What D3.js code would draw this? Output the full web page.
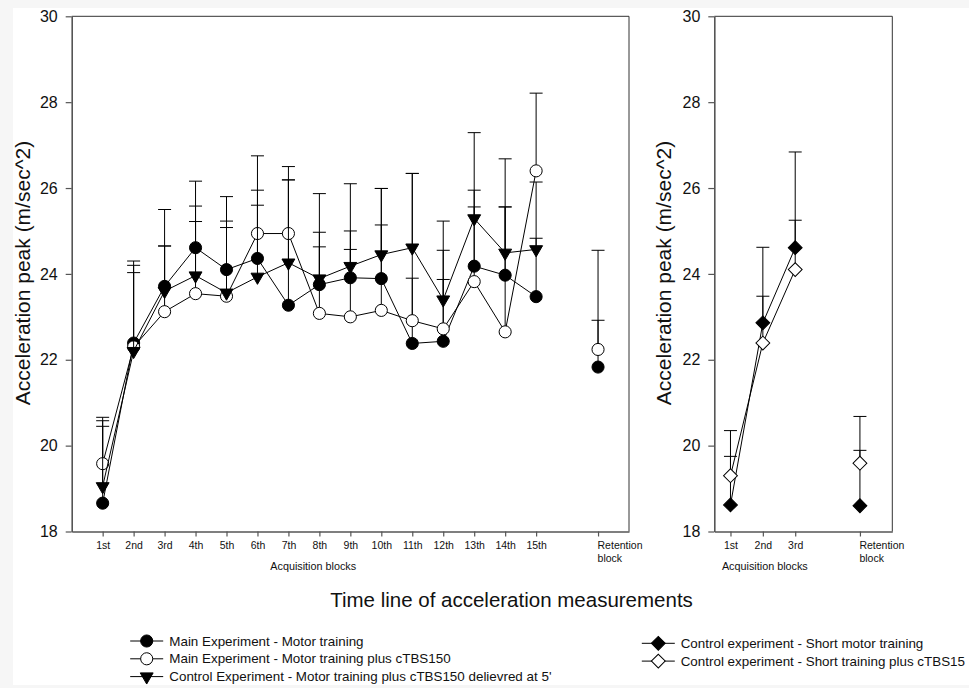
<!DOCTYPE html>
<html>
<head>
<meta charset="utf-8">
<script src="https://cdn.jsdelivr.net/npm/d3@7"></script>
<style>
  body { margin: 0; background: #f6f6f6; }
  svg { display: block; font-family: "Liberation Sans", Arial, sans-serif; }
</style>
</head>
<body>
<div id="chart"></div>
<script>
// acquisition blocks of the main experiment (last entry = retention block)
var blockLabels = ["1st", "2nd", "3rd", "4th", "5th", "6th", "7th", "8th", "9th", "10th",
                   "11th", "12th", "13th", "14th", "15th", "Retention block"];
var mainMotor      = [18.66, 22.39, 23.71, 24.61, 24.10, 24.36, 23.27, 23.75, 23.91, 23.89, 22.38, 22.43, 24.18, 23.97, 23.47, 21.83];
var mainMotorSem   = [1.79, 1.91, 1.79, 1.55, 1.70, 1.59, 2.92, 2.12, 2.19, 2.10, 1.52, 2.12, 1.77, 1.59, 1.36, 1.09];
var mainCtbs       = [19.58, 22.30, 23.12, 23.54, 23.48, 24.94, 24.94, 23.08, 23.00, 23.15, 22.91, 22.72, 23.82, 22.65, 26.40, 22.24];
var mainCtbsSem    = [1.08, 1.73, 1.53, 1.68, 1.60, 1.81, 1.56, 1.55, 1.57, 1.99, 3.43, 1.15, 1.74, 4.03, 1.81, 2.31];
var controlLate    = [19.05, 22.20, 23.60, 23.96, 23.56, 23.93, 24.26, 23.89, 24.18, 24.45, 24.61, 23.40, 25.29, 24.49, 24.57, null];
var controlLateSem = [1.53, 2.00, 1.05, 1.62, 1.67, 1.67, 1.93, 1.08, 0.82, 1.54, 1.73, 1.83, 2.00, 1.07, 1.57, null];

// short control experiment (last entry = retention block)
var shortLabels   = ["1st", "2nd", "3rd", "Retention block"];
var shortMotor    = [18.62, 22.86, 24.61, 18.60];
var shortMotorSem = [1.13, 1.76, 2.23, 1.29];
var shortCtbs     = [19.30, 22.39, 24.10, 19.59];
var shortCtbsSem  = [1.05, 1.09, 1.15, 1.09];

var yTicks = [18, 20, 22, 24, 26, 28, 30];

var legendLeft = [
  {label: "Main Experiment - Motor training", sym: "circle", fill: "#000"},
  {label: "Main Experiment - Motor training plus cTBS150", sym: "circle", fill: "#fff"},
  {label: "Control Experiment - Motor training plus cTBS150 delievred at 5'", sym: "triangle", fill: "#000"}
];
var legendRight = [
  {label: "Control experiment - Short motor training", sym: "diamond", fill: "#000"},
  {label: "Control experiment - Short training plus cTBS15", sym: "diamond", fill: "#fff"}
];

var W = 969, H = 688;
var svg = d3.select("#chart").append("svg")
    .attr("width", W)
    .attr("height", H);

// figure sheet
svg.append("rect")
  .attr("x", 13).attr("y", 8)
  .attr("width", W - 13).attr("height", 677)
  .attr("fill", "#fff");

var y = d3.scaleLinear().domain([18, 30]).range([531.5, 16.3]);

function symbolPath(sym) {
  if (sym == "circle") return d3.symbol().type(d3.symbolCircle).size(115)();
  if (sym == "triangle") return d3.symbol().type(d3.symbolTriangle).size(72)();
  return d3.symbol().type(d3.symbolSquare).size(96)();
}
function symbolRotate(sym) {
  if (sym == "triangle") return 180;
  if (sym == "diamond") return 45;
  return 0;
}

// one series: error bars (upper only), connecting line, markers
function drawSeries(g, x, pos, values, sems, nLine, sym, fill) {
  var pts = values.map(function (v, i) {
    return {x: pos[i], v: v, s: sems[i]};
  }).filter(function (d) { return d.v != null; });

  var eb = g.append("g").selectAll("g")
    .data(pts)
    .enter().append("g");
  eb.append("line")
    .attr("x1", function (d) { return x(d.x); })
    .attr("x2", function (d) { return x(d.x); })
    .attr("y1", function (d) { return y(d.v); })
    .attr("y2", function (d) { return y(d.v + d.s); })
    .attr("stroke", "#000").attr("stroke-width", 1);
  eb.append("line")
    .attr("x1", function (d) { return x(d.x) - 6.5; })
    .attr("x2", function (d) { return x(d.x) + 6.5; })
    .attr("y1", function (d) { return y(d.v + d.s); })
    .attr("y2", function (d) { return y(d.v + d.s); })
    .attr("stroke", "#000").attr("stroke-width", 1);

  var line = d3.line()
    .x(function (d) { return x(d.x); })
    .y(function (d) { return y(d.v); });
  g.append("path")
    .datum(pts.slice(0, nLine))
    .attr("d", line)
    .attr("fill", "none")
    .attr("stroke", "#000")
    .attr("stroke-width", 1);

  g.append("g").selectAll("path")
    .data(pts)
    .enter().append("path")
    .attr("d", symbolPath(sym))
    .attr("transform", function (d) {
      return "translate(" + x(d.x) + "," + y(d.v) + ") rotate(" + symbolRotate(sym) + ")";
    })
    .attr("fill", fill)
    .attr("stroke", "#000")
    .attr("stroke-width", 1);
}

function buildPanel(x, pos, labels, titleX, labelX) {
  var g = svg.append("g");
  var x0 = x.range()[0], x1 = x.range()[1];

  // frame top and right
  g.append("line").attr("x1", x0).attr("x2", x1).attr("y1", y(30)).attr("y2", y(30))
    .attr("stroke", "#333").attr("stroke-width", 1);
  g.append("line").attr("x1", x1).attr("x2", x1).attr("y1", y(30)).attr("y2", y(18))
    .attr("stroke", "#333").attr("stroke-width", 1);

  // y axis
  var ya = g.append("g")
    .attr("transform", "translate(" + x0 + ",0)")
    .call(d3.axisLeft(y).tickValues(yTicks).tickSize(6).tickPadding(8).tickSizeOuter(0));
  ya.select(".domain").attr("stroke", "#555").attr("stroke-width", 1.6);
  ya.selectAll(".tick line").attr("stroke", "#555").attr("stroke-width", 1.2);
  ya.selectAll(".tick text").attr("font-size", 16).attr("fill", "#111")
    .attr("font-family", "Liberation Sans, Arial, sans-serif");

  // x axis
  var xa = g.append("g")
    .attr("transform", "translate(0," + y(18) + ")")
    .call(d3.axisBottom(x).tickValues(pos).tickSize(5).tickPadding(5).tickSizeOuter(0)
      .tickFormat(function (d, i) { return labels[i]; }));
  xa.select(".domain").attr("stroke", "#555").attr("stroke-width", 1.6);
  xa.selectAll(".tick line").attr("stroke", "#555").attr("stroke-width", 1.2);
  xa.selectAll(".tick text").attr("font-size", 10.5).attr("fill", "#111")
    .attr("font-family", "Liberation Sans, Arial, sans-serif");

  // retention label on two lines, starting at its tick
  var last = xa.selectAll(".tick").filter(function (d, i) { return i == labels.length - 1; });
  var words = labels[labels.length - 1].split(" ");
  var t = last.select("text").text(null).attr("text-anchor", "start").attr("x", -1);
  t.append("tspan").attr("x", -1).text(words[0]);
  t.append("tspan").attr("x", -1).attr("dy", "1.25em").text(words[1]);

  g.append("text")
    .attr("x", titleX)
    .attr("y", 570)
    .attr("text-anchor", "middle")
    .attr("font-size", 10.8)
    .attr("fill", "#111")
    .text("Acquisition blocks");

  g.append("text")
    .attr("transform", "translate(" + labelX + ",273) rotate(-90)")
    .attr("text-anchor", "middle")
    .attr("dominant-baseline", "central")
    .attr("font-size", 21)
    .attr("fill", "#111")
    .text("Acceleration peak (m/sec^2)");

  return g;
}

// left panel: 15 acquisition blocks + retention
var posLeft = blockLabels.map(function (d, i) { return i < blockLabels.length - 1 ? i + 1 : i + 2; });
var xLeft = d3.scaleLinear().domain([0, 18]).range([71.7, 629]);
var gl = buildPanel(xLeft, posLeft, blockLabels, xLeft(7.8), 22);
var nAcq = blockLabels.length - 1;
drawSeries(gl, xLeft, posLeft, mainMotor, mainMotorSem, nAcq, "circle", "#000");
drawSeries(gl, xLeft, posLeft, mainCtbs, mainCtbsSem, nAcq, "circle", "#fff");
drawSeries(gl, xLeft, posLeft, controlLate, controlLateSem, nAcq, "triangle", "#000");

// right panel: 3 short acquisition blocks + retention
var posRight = shortLabels.map(function (d, i) { return i < shortLabels.length - 1 ? i + 1 : i + 2; });
var xRight = d3.scaleLinear().domain([0.5, 6]).range([714.3, 892.3]);
var gr = buildPanel(xRight, posRight, shortLabels, xRight(2) + 2, 663);
var nShort = shortLabels.length - 1;
drawSeries(gr, xRight, posRight, shortMotor, shortMotorSem, nShort, "diamond", "#000");
drawSeries(gr, xRight, posRight, shortCtbs, shortCtbsSem, nShort, "diamond", "#fff");

// common x title
svg.append("text")
  .attr("x", 511.5)
  .attr("y", 607)
  .attr("text-anchor", "middle")
  .attr("font-size", 20.5)
  .attr("fill", "#111")
  .text("Time line of acceleration measurements");

// legends
function drawLegend(items, sx, tx, y0, step) {
  var lg = svg.append("g");
  var row = lg.selectAll("g")
    .data(items)
    .enter().append("g")
    .attr("transform", function (d, i) { return "translate(0," + (y0 + i * step) + ")"; });
  row.append("line")
    .attr("x1", sx - 16.5).attr("x2", sx + 16.5)
    .attr("stroke", "#000").attr("stroke-width", 1);
  row.append("path")
    .attr("d", function (d) { return symbolPath(d.sym); })
    .attr("transform", function (d) { return "translate(" + sx + ",0) rotate(" + symbolRotate(d.sym) + ")"; })
    .attr("fill", function (d) { return d.fill; })
    .attr("stroke", "#000");
  row.append("text")
    .attr("x", tx)
    .attr("dominant-baseline", "central")
    .attr("font-size", 13.4)
    .attr("fill", "#111")
    .text(function (d) { return d.label; });
}
drawLegend(legendLeft, 146.7, 169.3, 641, 17.8);
drawLegend(legendRight, 658.3, 680.7, 643.3, 17.8);
</script>
</body>
</html>
